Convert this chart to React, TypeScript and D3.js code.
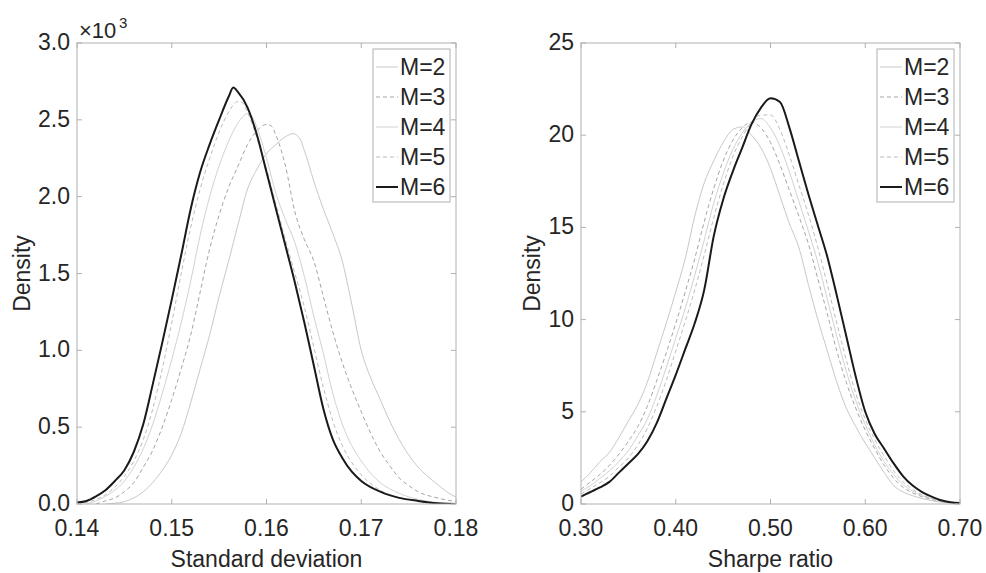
import React from 'react';
import * as d3 from 'd3';

const legendLabels = ['M=2', 'M=3', 'M=4', 'M=5', 'M=6'];
const sdTicksX = [0.14, 0.15, 0.16, 0.17, 0.18];
const sdTicksY = [0, 0.5, 1, 1.5, 2, 2.5, 3];
const srTicksX = [0.3, 0.4, 0.5, 0.6, 0.7];
const srTicksY = [0, 5, 10, 15, 20, 25];

// Standard deviation densities (×10^3)
const sdM2: [number, number][] = [[0.143,0],[0.144,0.005],[0.145,0.015],[0.146,0.04],[0.147,0.08],[0.148,0.14],[0.149,0.22],[0.150,0.32],[0.151,0.46],[0.152,0.66],[0.153,0.88],[0.154,1.10],[0.155,1.35],[0.156,1.58],[0.157,1.82],[0.158,2.05],[0.159,2.18],[0.160,2.28],[0.161,2.34],[0.162,2.39],[0.1628,2.41],[0.1635,2.38],[0.164,2.30],[0.165,2.10],[0.166,1.92],[0.167,1.76],[0.168,1.58],[0.169,1.30],[0.170,1.00],[0.171,0.82],[0.172,0.68],[0.173,0.54],[0.174,0.42],[0.175,0.32],[0.176,0.24],[0.177,0.18],[0.178,0.13],[0.179,0.08],[0.180,0.045]];
const sdM3: [number, number][] = [[0.142,0],[0.143,0.02],[0.144,0.04],[0.145,0.08],[0.146,0.14],[0.147,0.24],[0.148,0.35],[0.149,0.50],[0.150,0.68],[0.151,0.88],[0.152,1.10],[0.153,1.38],[0.154,1.66],[0.155,1.88],[0.156,2.06],[0.157,2.20],[0.158,2.34],[0.159,2.43],[0.160,2.47],[0.1605,2.46],[0.161,2.40],[0.162,2.20],[0.163,1.90],[0.164,1.72],[0.165,1.58],[0.166,1.35],[0.167,1.12],[0.168,0.92],[0.169,0.75],[0.170,0.60],[0.171,0.46],[0.172,0.34],[0.173,0.25],[0.174,0.17],[0.175,0.12],[0.176,0.08],[0.178,0.04],[0.180,0.015]];
const sdM4: [number, number][] = [[0.141,0],[0.142,0.02],[0.143,0.05],[0.144,0.09],[0.145,0.15],[0.146,0.24],[0.147,0.36],[0.148,0.52],[0.149,0.72],[0.150,0.94],[0.151,1.18],[0.152,1.45],[0.153,1.75],[0.154,2.00],[0.155,2.20],[0.156,2.36],[0.157,2.48],[0.158,2.54],[0.1585,2.52],[0.159,2.45],[0.160,2.25],[0.161,2.02],[0.162,1.85],[0.163,1.70],[0.164,1.48],[0.165,1.22],[0.166,0.98],[0.167,0.72],[0.168,0.52],[0.169,0.38],[0.170,0.28],[0.171,0.20],[0.172,0.14],[0.174,0.07],[0.176,0.03],[0.178,0.01],[0.180,0.003]];
const sdM5: [number, number][] = [[0.140,0],[0.141,0.01],[0.142,0.03],[0.143,0.06],[0.144,0.11],[0.145,0.18],[0.146,0.28],[0.147,0.42],[0.148,0.62],[0.149,0.88],[0.150,1.18],[0.151,1.50],[0.152,1.80],[0.153,2.05],[0.154,2.25],[0.155,2.42],[0.156,2.55],[0.157,2.62],[0.1575,2.61],[0.158,2.55],[0.159,2.38],[0.160,2.18],[0.161,1.95],[0.162,1.72],[0.163,1.50],[0.164,1.28],[0.165,1.02],[0.166,0.76],[0.167,0.54],[0.168,0.38],[0.169,0.27],[0.170,0.19],[0.172,0.09],[0.174,0.04],[0.176,0.02],[0.178,0.008],[0.180,0.002]];
const sdM6: [number, number][] = [[0.140,0.01],[0.141,0.02],[0.142,0.05],[0.143,0.09],[0.144,0.15],[0.145,0.22],[0.146,0.34],[0.147,0.52],[0.148,0.78],[0.149,1.05],[0.150,1.33],[0.151,1.62],[0.152,1.92],[0.153,2.16],[0.154,2.34],[0.155,2.50],[0.156,2.65],[0.1565,2.71],[0.157,2.68],[0.158,2.58],[0.159,2.40],[0.160,2.16],[0.161,1.92],[0.162,1.68],[0.163,1.44],[0.164,1.18],[0.165,0.90],[0.166,0.62],[0.167,0.42],[0.168,0.30],[0.169,0.21],[0.170,0.15],[0.172,0.08],[0.174,0.04],[0.176,0.02],[0.178,0.005],[0.180,0]];

// Sharpe ratio densities
const srGrid = [0.30,0.31,0.32,0.33,0.34,0.35,0.36,0.37,0.38,0.39,0.40,0.41,0.42,0.43,0.44,0.45,0.46,0.47,0.48,0.49,0.50,0.51,0.52,0.53,0.54,0.55,0.56,0.57,0.58,0.59,0.60,0.61,0.62,0.63,0.64,0.65,0.66,0.67,0.68,0.69,0.70];
const srM2 = [1.2,1.7,2.3,2.8,3.6,4.5,5.4,6.6,8.2,9.8,11.5,13.3,15.6,17.4,18.6,19.6,20.3,20.45,20.0,19.3,18.2,16.7,15.2,13.9,11.9,10.0,8.3,6.6,5.2,4.2,3.3,2.5,1.7,1.0,0.65,0.45,0.3,0.18,0.1,0.05,0.02];
const srM3 = [0.8,1.2,1.6,2.1,2.7,3.4,4.2,5.3,6.7,8.2,9.8,11.5,13.3,15.3,17.1,18.6,19.7,20.4,20.7,20.4,19.6,18.4,17.0,15.6,14.1,12.2,10.3,8.3,6.6,5.2,4.0,3.0,2.1,1.4,0.9,0.6,0.4,0.25,0.14,0.07,0.03];
const srM4 = [0.7,1.0,1.4,1.8,2.3,2.9,3.7,4.6,5.9,7.4,9.0,10.6,12.4,14.3,16.3,17.9,19.2,20.1,20.7,20.9,20.4,19.4,18.0,16.4,14.8,13.1,11.1,9.1,7.2,5.6,4.3,3.2,2.3,1.6,1.05,0.7,0.45,0.28,0.16,0.08,0.04];
const srM5 = [0.55,0.85,1.15,1.5,2.0,2.5,3.2,4.1,5.3,6.7,8.3,9.9,11.6,13.5,15.5,17.3,18.8,19.9,20.7,21.1,21.1,20.3,18.9,17.3,15.7,13.9,11.9,9.8,7.8,6.0,4.6,3.5,2.6,1.8,1.2,0.8,0.5,0.3,0.18,0.09,0.04];
const srM6 = [0.4,0.65,0.9,1.2,1.7,2.2,2.7,3.4,4.4,5.7,7.0,8.4,9.8,11.6,14.5,16.5,18.0,19.3,20.6,21.5,22.0,21.8,20.4,18.6,16.8,15.1,13.4,11.3,9.1,6.9,5.0,3.8,3.0,2.2,1.5,1.0,0.65,0.4,0.2,0.1,0.05];

const seriesStyles = [
  { color: '#c8c8c8', dash: null as string | null, width: 1 },
  { color: '#a4a4a4', dash: '4,3', width: 1 },
  { color: '#d2d2d2', dash: null as string | null, width: 1 },
  { color: '#bcbcbc', dash: '4,3', width: 1 },
  { color: '#1a1a1a', dash: null as string | null, width: 2 },
];

const FONT = '"Liberation Sans", Arial, Helvetica, sans-serif';
const TXT = '#262626';
const AX = '#b0b0b0';
const FS = 23;

type PanelProps = {
  id: string;
  left: number;
  right: number;
  top: number;
  bottom: number;
  xDomain: [number, number];
  yDomain: [number, number];
  xTicks: number[];
  yTicks: number[];
  xFmt: (v: number) => string;
  yFmt: (v: number) => string;
  xLabel: string;
  series: [number, number][][];
  exponent?: boolean;
  densityX: number;
};

function Panel(p: PanelProps) {
  const x = d3.scaleLinear().domain(p.xDomain).range([p.left, p.right]);
  const y = d3.scaleLinear().domain(p.yDomain).range([p.bottom, p.top]);
  const line = d3
    .line<[number, number]>()
    .x((d) => x(d[0]))
    .y((d) => y(d[1]))
    .curve(d3.curveMonotoneX);
  const tl = 5;
  const legX = p.right - 83;
  const legY = p.top + 6;
  const midY = (p.top + p.bottom) / 2;
  return (
    <g>
      <defs>
        <clipPath id={p.id}>
          <rect x={p.left} y={p.top} width={p.right - p.left} height={p.bottom - p.top} />
        </clipPath>
      </defs>
      <g clipPath={`url(#${p.id})`}>
        {p.series.map((s, i) => (
          <path
            key={i}
            d={line(s) || ''}
            fill="none"
            stroke={seriesStyles[i].color}
            strokeWidth={seriesStyles[i].width}
            strokeDasharray={seriesStyles[i].dash || undefined}
            strokeLinejoin="round"
          />
        ))}
      </g>
      <rect x={p.left} y={p.top} width={p.right - p.left} height={p.bottom - p.top} fill="none" stroke={AX} strokeWidth={1} />
      {p.xTicks.map((t, i) => (
        <g key={'xt' + i}>
          <line x1={x(t)} x2={x(t)} y1={p.bottom} y2={p.bottom - tl} stroke={AX} />
          <line x1={x(t)} x2={x(t)} y1={p.top} y2={p.top + tl} stroke={AX} />
          <text x={x(t)} y={p.bottom + 32} textAnchor="middle" fontSize={FS} fill={TXT} fontFamily={FONT}>
            {p.xFmt(t)}
          </text>
        </g>
      ))}
      {p.yTicks.map((t, i) => (
        <g key={'yt' + i}>
          <line x1={p.left} x2={p.left + tl} y1={y(t)} y2={y(t)} stroke={AX} />
          <line x1={p.right} x2={p.right - tl} y1={y(t)} y2={y(t)} stroke={AX} />
          <text x={p.left - 7} y={y(t) + 7} textAnchor="end" fontSize={FS} fill={TXT} fontFamily={FONT}>
            {p.yFmt(t)}
          </text>
        </g>
      ))}
      <text x={(p.left + p.right) / 2} y={p.bottom + 63} textAnchor="middle" fontSize={FS} fill={TXT} fontFamily={FONT}>
        {p.xLabel}
      </text>
      <text
        transform={`translate(${p.densityX},${midY}) rotate(-90)`}
        textAnchor="middle"
        fontSize={FS}
        fill={TXT}
        fontFamily={FONT}
      >
        Density
      </text>
      {p.exponent && (
        <g fontFamily={FONT} fill={TXT}>
          <text x={p.left + 2} y={p.top - 5} fontSize={22}>
            ×10
          </text>
          <text x={p.left + 42} y={p.top - 15} fontSize={15}>
            3
          </text>
        </g>
      )}
      <rect x={legX} y={legY} width={77} height={153} fill="#fff" stroke={AX} strokeWidth={1} />
      {legendLabels.map((lab, i) => {
        const cy = legY + 18 + i * 30;
        return (
          <g key={'lg' + i}>
            <line
              x1={legX + 3}
              x2={legX + 25}
              y1={cy}
              y2={cy}
              stroke={seriesStyles[i].color}
              strokeWidth={seriesStyles[i].width}
              strokeDasharray={seriesStyles[i].dash || undefined}
            />
            <text x={legX + 27} y={cy + 8} fontSize={FS} fill={TXT} fontFamily={FONT}>
              {lab}
            </text>
          </g>
        );
      })}
    </g>
  );
}

export default function App() {
  const srSeries = [srM2, srM3, srM4, srM5, srM6].map((vals) =>
    srGrid.map((g, i) => [g, vals[i]] as [number, number])
  );
  return (
    <svg
      width={986}
      height={573}
      viewBox="0 0 986 573"
      style={{ position: 'absolute', left: 0, top: 0, background: '#fff' }}
    >
      <rect width={986} height={573} fill="#fff" />
      <Panel
        id="clipL"
        left={77}
        right={456}
        top={43}
        bottom={504}
        xDomain={[0.14, 0.18]}
        yDomain={[0, 3]}
        xTicks={sdTicksX}
        yTicks={sdTicksY}
        xFmt={(v) => v.toFixed(2)}
        yFmt={(v) => v.toFixed(1)}
        xLabel="Standard deviation"
        series={[sdM2, sdM3, sdM4, sdM5, sdM6]}
        exponent
        densityX={30}
      />
      <Panel
        id="clipR"
        left={581}
        right={960}
        top={43}
        bottom={504}
        xDomain={[0.3, 0.7]}
        yDomain={[0, 25]}
        xTicks={srTicksX}
        yTicks={srTicksY}
        xFmt={(v) => v.toFixed(2)}
        yFmt={(v) => String(v)}
        xLabel="Sharpe ratio"
        series={srSeries}
        densityX={540}
      />
    </svg>
  );
}
